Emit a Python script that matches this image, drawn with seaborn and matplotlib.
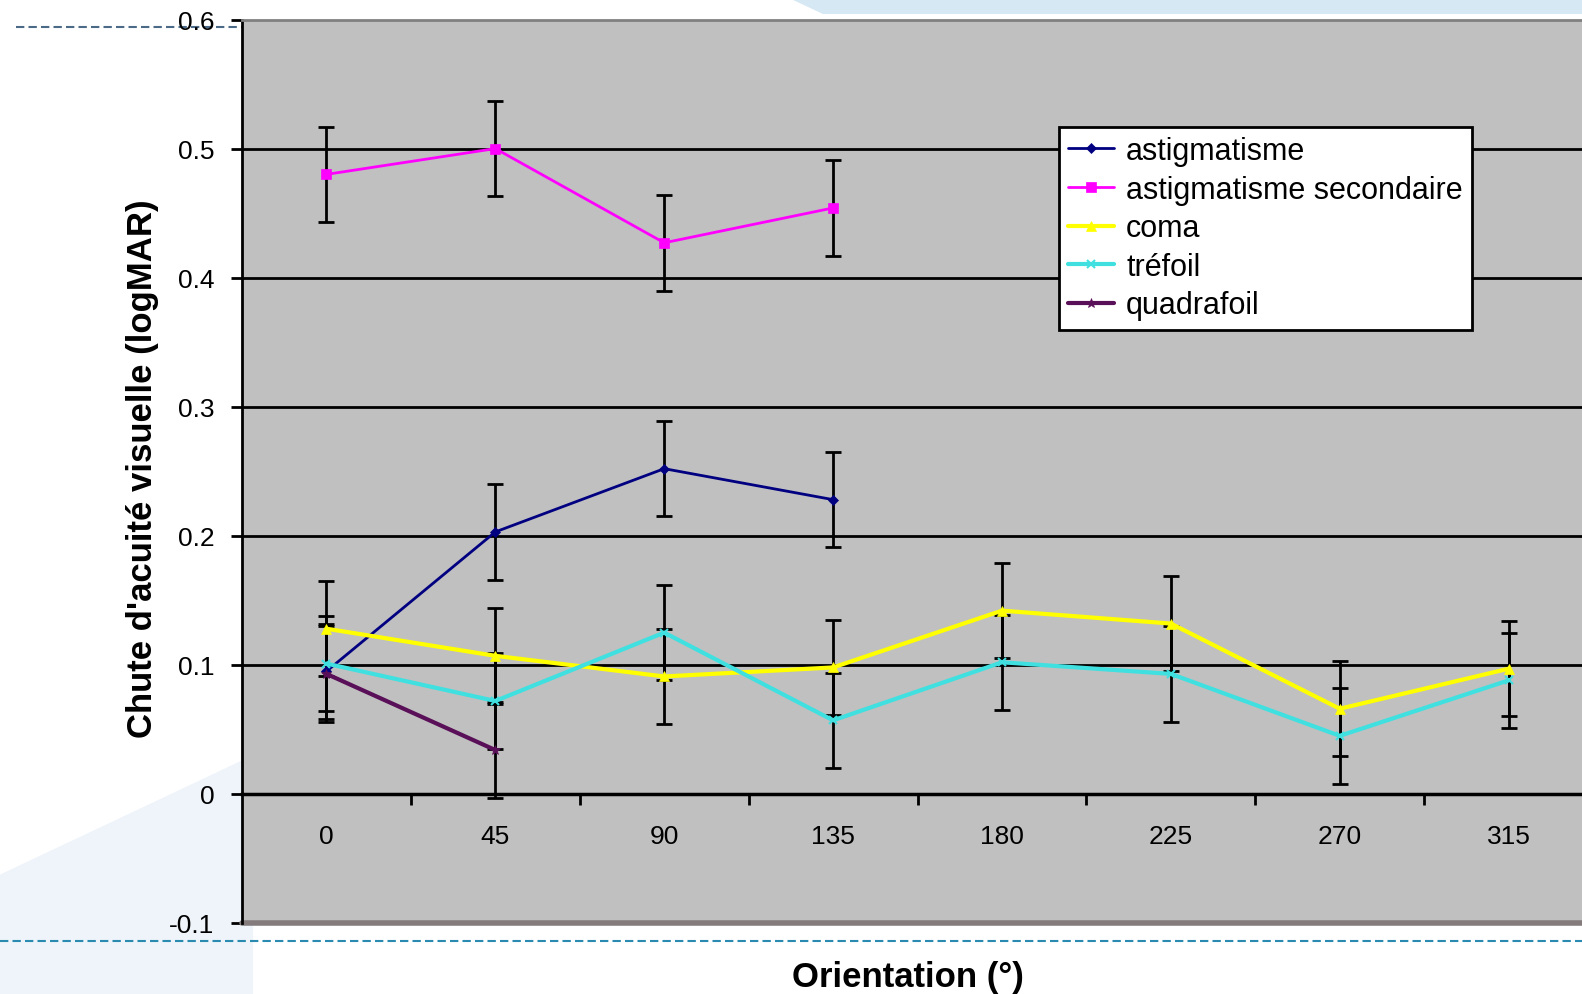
import numpy as np
import pandas as pd
import seaborn as sns
import matplotlib.pyplot as plt
from matplotlib.lines import Line2D
from matplotlib.patches import Polygon

# ---------------- data ----------------
orientations = ["0", "45", "90", "135", "180", "225", "270", "315"]

astig = [0.095, 0.203, 0.252, 0.228]
astig_err = [0.037, 0.037, 0.037, 0.037]

astig_sec = [0.480, 0.500, 0.427, 0.454]
astig_sec_err = [0.037, 0.037, 0.037, 0.037]

coma = [0.128, 0.107, 0.091, 0.098, 0.142, 0.132, 0.066, 0.097]
coma_err = [0.037, 0.037, 0.037, 0.037, 0.037, 0.037, 0.037, 0.037]

trefoil = [0.101, 0.072, 0.125, 0.057, 0.102, 0.093, 0.045, 0.088]
trefoil_err = [0.037, 0.037, 0.037, 0.037, 0.037, 0.037, 0.037, 0.037]

quadrafoil = [0.093, 0.034]
quadrafoil_err = [0.037, 0.037]

series_names = ["astigmatisme", "astigmatisme secondaire", "coma", "tréfoil", "quadrafoil"]
series_vals = [astig, astig_sec, coma, trefoil, quadrafoil]
series_errs = [astig_err, astig_sec_err, coma_err, trefoil_err, quadrafoil_err]

y_ticks = [-0.1, 0, 0.1, 0.2, 0.3, 0.4, 0.5, 0.6]
y_ticklabels = ["-0.1", "0", "0.1", "0.2", "0.3", "0.4", "0.5", "0.6"]

# ---------------- style ----------------
sns.set_style("white")
plt.rcParams["font.family"] = ["Liberation Sans", "DejaVu Sans"]
plt.rcParams["text.color"] = "black"
plt.rcParams["xtick.color"] = "black"
plt.rcParams["ytick.color"] = "black"
plt.rcParams["xtick.labelcolor"] = "black"
plt.rcParams["ytick.labelcolor"] = "black"
plt.rcParams["legend.labelcolor"] = "black"

colors = ["#000080", "#FF00FF", "#FFFF00", "#40E0E0", "#5A1058"]
markers = ["D", "s", "^", "x", "*"]
msizes = [5, 7, 7, 6, 7]
lws = [2.0, 2.0, 3.0, 3.0, 3.0]

rows = []
for name, vals, errs in zip(series_names, series_vals, series_errs):
    for i, (v, e) in enumerate(zip(vals, errs)):
        rows.append({"serie": name, "pos": i, "val": v, "err": e})
df = pd.DataFrame(rows)

fig = plt.figure(figsize=(15.82, 9.95), dpi=100)
fig.patch.set_facecolor("white")

# light decorative background shapes (behind the axes)
fig.patches.append(Polygon([[0, 0.0], [0.16, 0.0], [0.16, 0.24], [0.0, 0.12]],
                           closed=True, transform=fig.transFigure,
                           facecolor="#EEF4FA", edgecolor="none", zorder=-5))
fig.patches.append(Polygon([[0.5, 1.0], [1.0, 1.0], [1.0, 0.985], [0.52, 0.985]],
                           closed=True, transform=fig.transFigure,
                           facecolor="#D6E8F4", edgecolor="none", zorder=-5))
fig.add_artist(Line2D([0.01, 0.153], [1 - 28 / 995, 1 - 28 / 995], transform=fig.transFigure,
                      color="#4A6A88", lw=1.5, ls=(0, (4, 2)), zorder=-4))
fig.add_artist(Line2D([0.0, 1.0], [1 - 942 / 995, 1 - 942 / 995], transform=fig.transFigure,
                      color="#2A8AB0", lw=1.5, ls=(0, (4, 2)), zorder=-4))

ax = fig.add_axes([242 / 1582, 1 - 924 / 995, 1.007 - 242 / 1582, (924 - 20.5) / 995])
ax.set_zorder(2)
ax.set_facecolor("#C0C0C0")

for name in series_names:
    sub = df[df["serie"] == name]
    ax.errorbar(sub["pos"], sub["val"], yerr=sub["err"], fmt="none",
                ecolor="black", elinewidth=2, capsize=6, capthick=2, zorder=3)

for name, col, mk, ms, lw in zip(series_names, colors, markers, msizes, lws):
    sub = df[df["serie"] == name]
    sns.lineplot(data=sub, x="pos", y="val", ax=ax, color=col, lw=lw,
                 marker=mk, markersize=ms, markeredgecolor=col,
                 markeredgewidth=1.5 if mk == "x" else 0.5, label=name, zorder=4)

ax.set_xlim(-0.5, len(orientations) - 0.5)
ax.set_ylim(-0.1, 0.6)

# gridlines
for yv in y_ticks[2:-1]:
    ax.axhline(yv, color="black", lw=2, zorder=1)

# spines
ax.spines["right"].set_visible(False)
ax.spines["top"].set_color("#808080")
ax.spines["top"].set_linewidth(2)
ax.spines["left"].set_color("black")
ax.spines["left"].set_linewidth(2)
ax.spines["bottom"].set_position(("data", 0))
ax.spines["bottom"].set_color("black")
ax.spines["bottom"].set_linewidth(2.5)
ax.axhline(-0.1, color="#847C7C", lw=4, clip_on=False, zorder=2)

ax.set_yticks(y_ticks)
ax.set_yticklabels(y_ticklabels)
ax.tick_params(axis="y", direction="out", length=8, width=2, color="black",
               labelsize=19, pad=12, left=True, labelcolor="black")

ax.set_xticks(np.arange(len(orientations) - 1) + 0.5)
ax.set_xticklabels([])
ax.set_xticks(np.arange(len(orientations)), minor=True)
ax.set_xticklabels(orientations, minor=True)
ax.tick_params(axis="x", which="major", direction="out", length=8, width=2,
               color="black", bottom=True)
ax.tick_params(axis="x", which="minor", length=0, labelsize=19, pad=22,
               labelcolor="black")

ax.set_xlabel("")
ax.set_ylabel("")
fig.text(908 / 1582, 1 - 978 / 995, "Orientation (°)", ha="center", va="center",
         fontsize=25, fontweight="bold", color="black")
fig.text(143 / 1582, 1 - 469 / 995, "Chute d'acuité visuelle (logMAR)", ha="center",
         va="center", rotation=90, fontsize=25, fontweight="bold", color="black")

leg = ax.legend(loc="upper left", bbox_to_anchor=(1059 / 1582, 1 - 128 / 995),
                bbox_transform=fig.transFigure, fontsize=22, frameon=True,
                fancybox=False, framealpha=1, edgecolor="black", borderaxespad=0,
                handlelength=1.5, handletextpad=0.4, labelspacing=0.28,
                borderpad=0.3)
leg.get_frame().set_linewidth(2)
leg.set_zorder(10)

fig.savefig("out.png", dpi=100, facecolor="white")
